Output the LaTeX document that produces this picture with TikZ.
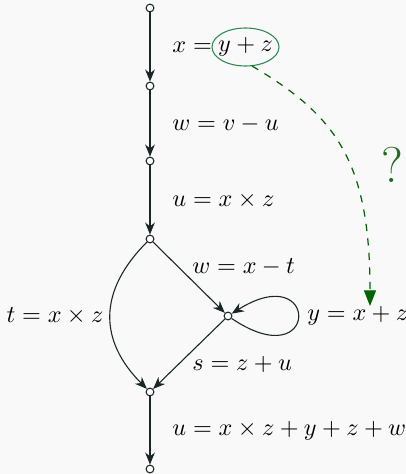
\documentclass[tikz,border=0pt]{standalone}
\usetikzlibrary{arrows.meta,shapes.geometric}
\definecolor{bg}{HTML}{F9F9F9}
\definecolor{edgecol}{HTML}{1A2626}
\definecolor{ellcol}{HTML}{2E8B57}
\definecolor{dgreen}{HTML}{006400}
\definecolor{qgreen}{HTML}{1E6E1E}
\begin{document}
\begin{tikzpicture}[x=0.413pt,y=0.413pt,
  vtx/.style={circle,draw=edgecol,fill=white,line width=0.45pt,minimum size=3.2pt,inner sep=0pt},
  arr/.style={draw=edgecol,line width=0.45pt,-{Stealth[length=5pt,width=4pt]}},
  lbl/.style={inner sep=0pt}]
\fill[bg] (0,0) rectangle (406,-474);
\useasboundingbox (0,0) rectangle (406,-474);
% vertices
\node[vtx] (a1) at (150,-8) {};
\node[vtx] (a2) at (150,-86) {};
\node[vtx] (a3) at (150,-161) {};
\node[vtx] (a4) at (150,-239) {};
\node[vtx] (m)  at (228,-316) {};
\node[vtx] (a5) at (150,-392) {};
\node[vtx] (a6) at (150,-469) {};
% edges
\draw[arr] (a1) -- (a2);
\draw[arr] (a2) -- (a3);
\draw[arr] (a3) -- (a4);
\draw[arr] (a4) -- (m);
\draw[arr] (m) -- (a5);
\draw[arr] (a4) to[out=225,in=135,looseness=1.2] (a5);
\draw[arr] (m) .. controls (320,-378) and (320,-258) .. (m);
\draw[arr] (a5) -- (a6);
% labels
\node[lbl,anchor=west] (l1) at (172,-47) {$x =$};
\node[lbl] (ell) at (245.5,-47) {$y+z$};
\draw[ellcol,line width=0.45pt] (ell) ellipse [x radius=33.5, y radius=19];
\node[lbl,anchor=west] (l2) at (172,-124) {$w = v - u$};
\node[lbl,anchor=west] (l3) at (172,-200) {$u = x \times z$};
\node[lbl,anchor=west] (l4) at (192,-267) {$w = x - t$};
\node[lbl,anchor=east] (l5) at (104,-316) {$t = x \times z$};
\node[lbl,anchor=west] (l6) at (307,-316) {$y = x + z$};
\node[lbl,anchor=west] (l7) at (192,-364) {$s = z + u$};
\node[lbl,anchor=west] (l8) at (172,-431) {$u = x \times z + y + z + w$};
\node[lbl,text=qgreen,font=\huge] (q) at (392,-165) {?};
% dashed green arrow
\coordinate (start) at (252,-66);
\coordinate (tip) at (370,-306);
\draw[dgreen,dashed,line width=0.5pt,-{Triangle[length=6.5pt,width=5pt]}] (start) .. controls (335,-115) and (370,-160) .. (tip);
\end{tikzpicture}
\end{document}
